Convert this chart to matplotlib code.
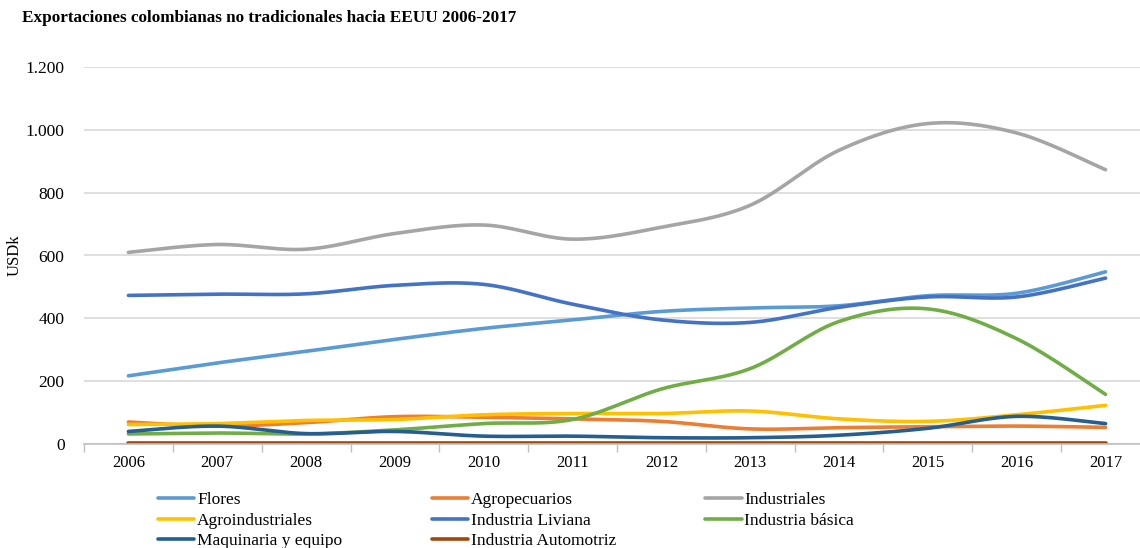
import numpy as np
import matplotlib.pyplot as plt
from matplotlib.ticker import FuncFormatter

years = [2006, 2007, 2008, 2009, 2010, 2011, 2012, 2013, 2014, 2015, 2016, 2017]

flores = [217, 258, 295, 333, 368, 395, 422, 433, 440, 472, 480, 548]
agropecuarios = [70, 57, 68, 87, 85, 80, 72, 48, 52, 55, 57, 53]
industriales = [610, 635, 620, 670, 697, 652, 690, 760, 935, 1020, 990, 873]
agroindustriales = [62, 65, 75, 78, 93, 97, 97, 105, 80, 72, 93, 123]
industria_liviana = [473, 477, 478, 505, 508, 445, 395, 387, 435, 468, 468, 528]
industria_basica = [32, 35, 32, 45, 65, 78, 175, 240, 390, 430, 335, 158]
maquinaria = [40, 57, 33, 40, 25, 25, 20, 20, 28, 50, 88, 65]
automotriz = [3, 3, 3, 3, 3, 3, 3, 3, 3, 3, 3, 3]

names = ["Flores", "Agropecuarios", "Industriales", "Agroindustriales",
         "Industria Liviana", "Industria básica", "Maquinaria y equipo",
         "Industria Automotriz"]
series = [flores, agropecuarios, industriales, agroindustriales,
          industria_liviana, industria_basica, maquinaria, automotriz]
colors = ["#5B9BD5", "#ED7D31", "#A5A5A5", "#FFC000",
          "#4472C4", "#70AD47", "#255E91", "#9E480E"]


def smooth(x, y, n=30):
    # Catmull-Rom, roughly what Excel's "smoothed line" does
    x = np.asarray(x, float)
    y = np.asarray(y, float)
    px = np.concatenate([[x[0]], x, [x[-1]]])
    py = np.concatenate([[y[0]], y, [y[-1]]])
    t = np.linspace(0, 1, n)[:-1]
    xs, ys = [], []
    for i in range(1, len(px) - 2):
        for p, out in ((px, xs), (py, ys)):
            p0, p1, p2, p3 = p[i - 1], p[i], p[i + 1], p[i + 2]
            out.extend(0.5 * (2 * p1 + (-p0 + p2) * t
                              + (2 * p0 - 5 * p1 + 4 * p2 - p3) * t ** 2
                              + (-p0 + 3 * p1 - 3 * p2 + p3) * t ** 3))
    xs.append(x[-1])
    ys.append(y[-1])
    return np.array(xs), np.array(ys)


plt.rcParams["font.family"] = ["Liberation Serif", "DejaVu Serif"]

fig = plt.figure(figsize=(11.4, 5.48), dpi=100)
ax = fig.add_axes([84 / 1140, 1 - 444 / 548, 1066 / 1140, 377 / 548])

idx = np.arange(len(years))
lines = []
for name, vals, c in zip(names, series, colors):
    sx, sy = smooth(idx, vals)
    ln, = ax.plot(sx, sy, color=c, lw=2.6, label=name, solid_capstyle="round")
    lines.append(ln)

ax.set_xlim(-0.5, len(years) - 0.5)
ax.set_ylim(0, 1200)
ax.set_yticks(range(0, 1201, 200))
ax.yaxis.set_major_formatter(FuncFormatter(lambda v, p: f"{int(v):,}".replace(",", ".")))
ax.set_xticks(idx)
ax.set_xticklabels([str(y) for y in years])
ax.set_xticks(np.arange(-0.5, len(years), 1), minor=True)
ax.tick_params(axis="x", which="major", length=0, labelsize=12, pad=8)
ax.tick_params(axis="x", which="minor", length=6, color="#BFBFBF", width=1)
ax.tick_params(axis="y", length=0, labelsize=12.5, pad=14)

ax.grid(axis="y", color="#D9D9D9", lw=1.2)
ax.set_axisbelow(True)
for s in ["top", "right", "left"]:
    ax.spines[s].set_visible(False)
ax.spines["bottom"].set_color("#BFBFBF")
ax.spines["bottom"].set_linewidth(1.2)

ax.set_ylabel("USDk", fontsize=12, labelpad=2)

fig.text(22 / 1140, 1 - 18 / 548, "Exportaciones colombianas no tradicionales hacia EEUU 2006-2017",
         fontsize=12.3, fontweight="bold", va="center", ha="left")

order = [0, 3, 6, 1, 4, 7, 2, 5]
fig.legend([lines[i] for i in order], [names[i] for i in order],
           ncol=3, loc="upper left", bbox_to_anchor=(158 / 1140, 1 - 492 / 548),
           frameon=False, fontsize=12.5, handlelength=2.1, handletextpad=0.15,
           columnspacing=5.15, labelspacing=0.25, borderaxespad=0, borderpad=0)

fig.savefig("out.png", dpi=100)
